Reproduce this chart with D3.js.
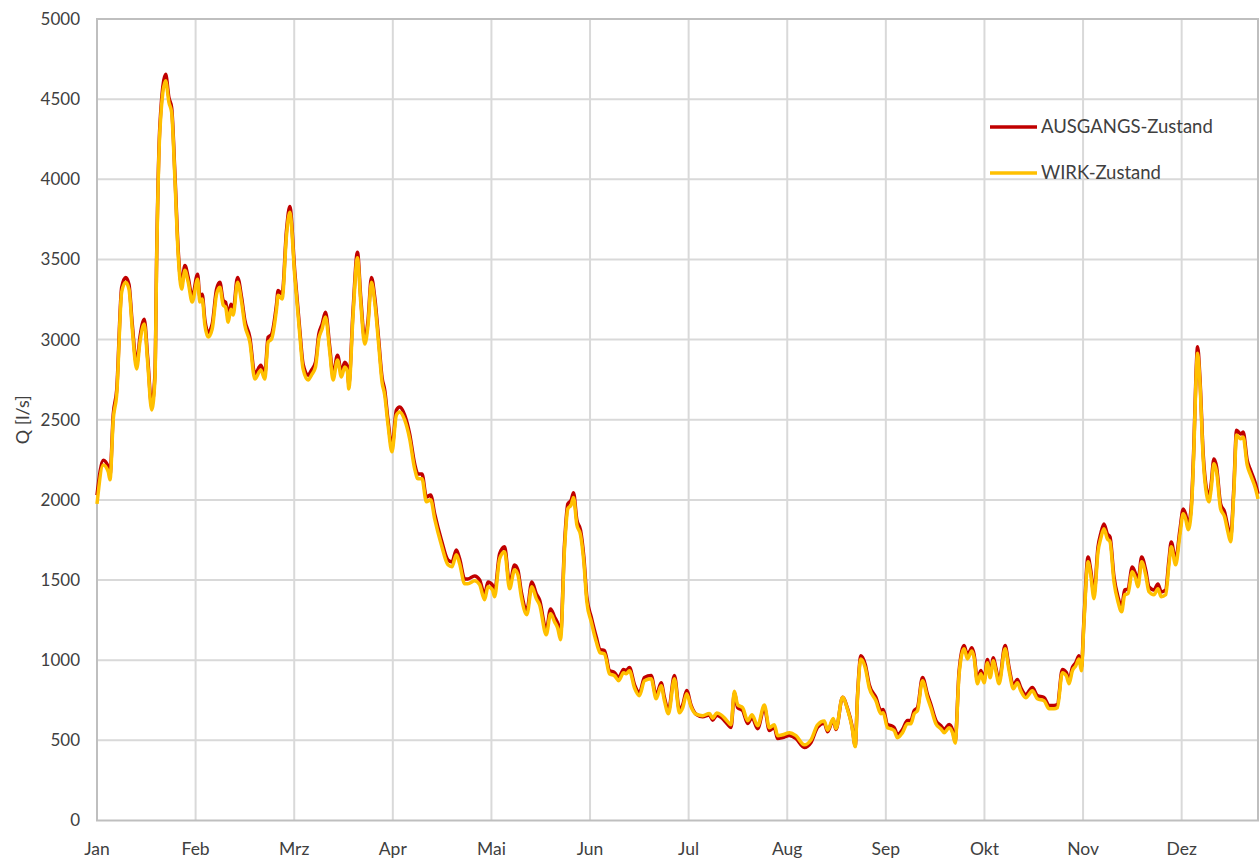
<!DOCTYPE html>
<html>
<head>
<meta charset="utf-8">
<script src="https://cdn.jsdelivr.net/npm/d3@7"></script>
<style>
  body { margin: 0; background: #fff; }
  text { font-family: Lato, "Open Sans", sans-serif; fill: #404040; }
</style>
</head>
<body>
<div id="chartContainer"></div>
<script>
const days = [
  0, 1.98, 3.55, 4.08, 5.12, 6.19, 7.76, 9.01, 10.05, 11.09, 12.47, 13.5, 14.86, 15.92, 17.18, 18.22, 18.75, 19.79,
  21.58, 22.61, 23.46, 24.5, 25.53, 26.6, 27.64, 28.67, 29.93, 31.63, 32.35, 33.07, 33.92, 34.96, 36.21, 37.59,
  38.63, 39.67, 40.42, 41.24, 42.09, 42.81, 44.19, 45.45, 46.48, 48.05, 49.62, 51.51, 52.76, 53.8, 54.87, 56.44,
  56.94, 58.2, 59.58, 60.61, 62.19, 63.76, 64.79, 66.36, 67.43, 68.69, 69.72, 70.76, 71.83, 73.18, 74.21, 75.6,
  76.85, 77.89, 78.74, 79.15, 80.5, 81.88, 82.91, 84.17, 85.21, 86.27, 87.31, 88.57, 89.6, 90.45, 91.49, 92.74,
  94.13, 95.16, 96.73, 98.3, 99.87, 100.91, 102.17, 103.55, 104.9, 106.16, 108.26, 110.33, 111.59, 112.97, 114.01,
  115.58, 116.61, 118.72, 120.29, 121.86, 122.9, 124.28, 125.0, 126.57, 128.14, 129.71, 131.28, 132.32, 133.39,
  135.14, 136.71, 138.1, 139.13, 141.24, 142.59, 143.84, 144.88, 145.73, 146.98, 148.02, 149.09, 149.81, 150.85,
  152.01, 153.05, 153.99, 155.37, 156.94, 158.2, 159.55, 161.12, 162.69, 164.04, 165.52, 166.36, 167.4, 168.97,
  170.54, 172.11, 174.21, 175.79, 177.36, 178.39, 179.65, 181.53, 183.1, 184.14, 185.39, 186.78, 188.35, 190.42,
  192.52, 193.56, 194.82, 196.2, 197.77, 199.34, 200.38, 201.41, 202.98, 204.55, 205.94, 207.7, 209.8, 211.37,
  212.94, 213.98, 215.55, 217.65, 219.76, 222.36, 224.47, 226.54, 228.64, 229.68, 231.47, 232.32, 234.39, 235.96,
  237.34, 238.38, 239.1, 240.17, 241.52, 242.78, 244.88, 246.45, 247.17, 248.52, 249.59, 250.63, 251.66, 253.23,
  254.8, 255.87, 256.91, 257.95, 259.52, 261.09, 262.16, 263.73, 265.3, 266.33, 267.9, 268.94, 269.79, 271.04,
  272.61, 273.65, 275.03, 275.75, 276.79, 277.86, 278.89, 279.93, 280.78, 281.81, 282.57, 283.6, 285.49, 286.75,
  288.1, 289.35, 290.42, 291.99, 294.06, 295.63, 297.74, 299.31, 300.88, 301.92, 303.49, 304.74, 305.59, 306.63,
  307.7, 308.73, 309.46, 310.3, 311.56, 312.41, 313.44, 314.7, 315.55, 316.58, 317.62, 318.47, 319.72, 320.98,
  322.14, 323.09, 324.12, 325.47, 326.54, 327.26, 328.42, 329.68, 330.72, 332.29, 333.54, 334.58, 335.96, 337.0,
  337.72, 339.1, 340.45, 341.49, 342.24, 343.06, 344.0, 344.85, 345.48, 346.01, 346.73, 347.77, 348.84, 349.56,
  350.28, 351.13, 351.98, 353.23, 354.49, 355.53, 356.38, 357.41, 358.26, 359.52, 360.34, 361.59, 362.66, 364.24, 365
];

const ausgang = [
  2030, 2248, 2205, 2155, 2535, 2685, 3326, 3388, 3345, 3096, 2847, 3015, 3127, 2890, 2591, 2784, 3513, 4342,
  4655, 4510, 4448, 4030, 3557, 3345, 3463, 3388, 3264, 3407, 3264, 3283, 3120, 3046, 3096, 3314,
  3357, 3245, 3233, 3139, 3220, 3183, 3388, 3264, 3120, 3015, 2784, 2840, 2784, 3015, 3033, 3220,
  3307, 3283, 3682, 3830, 3420, 3058, 2847, 2778, 2809, 2859, 3033, 3096, 3171, 2952, 2778, 2903,
  2797, 2859, 2828, 2722, 3183, 3545, 3264, 3002, 3120, 3388, 3264, 2996, 2766, 2685, 2498, 2330,
  2560, 2579, 2529, 2411, 2224, 2162, 2162, 2018, 2031, 1912, 1750, 1625, 1613, 1688, 1632,
  1507, 1507, 1526, 1501, 1407, 1488, 1470, 1426, 1663, 1707, 1476, 1594, 1563, 1426,
  1314, 1488, 1414, 1376, 1189, 1320, 1270, 1227, 1158, 1725, 1975, 2000, 2045, 1875,
  1812, 1644, 1395, 1270, 1146, 1066, 1060, 935, 923, 892, 942, 935, 954, 848,
  798, 892, 904, 779, 860, 767, 686, 904, 692, 723, 811, 718, 663, 648,
  658, 626, 656, 643, 611, 580, 795, 704, 686, 605, 642, 573, 705, 561,
  580, 511, 517, 530, 511, 456, 487, 582, 608, 553, 628, 567, 769, 698,
  592, 467, 782, 1028, 973, 848, 767, 686, 692, 599, 592, 580, 536, 568,
  624, 624, 686, 705, 892, 786, 723, 624, 592, 568, 599, 568, 495, 935,
  1091, 1028, 1078, 1035, 873, 935, 879, 1004, 910, 1016, 954, 873, 1091, 954,
  842, 879, 829, 786, 829, 779, 767, 717, 717, 723, 942, 923, 873, 954,
  985, 1028, 954, 1260, 1644, 1563, 1414, 1707, 1788, 1850, 1788, 1769, 1520, 1395,
  1332, 1438, 1445, 1582, 1538, 1488, 1644, 1563, 1457, 1438, 1476, 1426, 1438, 1625,
  1738, 1625, 1812, 1943, 1912, 1844, 1956, 2348, 2766, 2955, 2766, 2286, 2062, 2018,
  2099, 2255, 2205, 1975, 1925, 1831, 1769, 2080, 2435, 2411, 2423, 2248, 2186, 2099, 2037
];

const wirk = [
  1975, 2218, 2175, 2125, 2505, 2655, 3296, 3358, 3315, 3066, 2817, 2985, 3097, 2860, 2561, 2754, 3483, 4312,
  4615, 4480, 4418, 4000, 3527, 3315, 3433, 3358, 3234, 3377, 3234, 3253, 3090, 3016, 3066, 3284,
  3327, 3215, 3203, 3109, 3190, 3153, 3358, 3234, 3090, 2985, 2754, 2810, 2754, 2985, 3003, 3190,
  3277, 3253, 3652, 3795, 3390, 3028, 2817, 2748, 2779, 2829, 3003, 3066, 3141, 2922, 2748, 2873,
  2767, 2829, 2798, 2692, 3153, 3510, 3234, 2972, 3090, 3358, 3234, 2966, 2736, 2655, 2468, 2300,
  2530, 2549, 2499, 2381, 2194, 2132, 2132, 1988, 2001, 1882, 1720, 1595, 1583, 1658, 1602,
  1477, 1477, 1496, 1471, 1377, 1458, 1440, 1396, 1633, 1677, 1446, 1564, 1533, 1396,
  1284, 1458, 1384, 1346, 1159, 1290, 1240, 1197, 1128, 1695, 1945, 1970, 2015, 1845,
  1782, 1614, 1365, 1240, 1116, 1046, 1040, 915, 903, 872, 922, 915, 934, 828,
  778, 872, 884, 759, 840, 747, 666, 884, 672, 703, 791, 708, 663, 654,
  668, 638, 670, 659, 629, 598, 807, 722, 704, 623, 660, 591, 721, 579,
  598, 529, 535, 548, 529, 472, 503, 596, 620, 563, 636, 573, 769, 692,
  586, 461, 770, 1008, 953, 828, 747, 666, 672, 579, 572, 560, 516, 548,
  604, 604, 666, 685, 872, 766, 703, 604, 572, 548, 579, 548, 483, 915,
  1071, 1008, 1058, 1015, 853, 915, 859, 984, 890, 996, 934, 853, 1071, 934,
  822, 859, 809, 766, 809, 759, 747, 697, 697, 703, 922, 903, 853, 934,
  965, 1008, 934, 1240, 1614, 1533, 1384, 1677, 1758, 1820, 1758, 1739, 1490, 1365,
  1302, 1408, 1415, 1552, 1508, 1458, 1614, 1533, 1427, 1408, 1446, 1396, 1408, 1595,
  1708, 1595, 1782, 1913, 1882, 1814, 1926, 2318, 2736, 2915, 2736, 2256, 2032, 1988,
  2069, 2225, 2175, 1945, 1895, 1801, 1739, 2050, 2405, 2381, 2393, 2218, 2156, 2069, 2007
];

// category axis ticks every 31 days, labelled with month names
const monthLabels = ["Jan", "Feb", "Mrz", "Apr", "Mai", "Jun", "Jul", "Aug", "Sep", "Okt", "Nov", "Dez"];
const yTicks = [0, 500, 1000, 1500, 2000, 2500, 3000, 3500, 4000, 4500, 5000];

const seriesNames = ["AUSGANGS-Zustand", "WIRK-Zustand"];
const seriesColors = ["#C00000", "#FFC000"];

const width = 1260;
const height = 861;
const margin = { top: 19, right: 2, bottom: 40, left: 97 };

const svg = d3
  .select("#chartContainer")
  .append("svg")
  .attr("width", width)
  .attr("height", height);

const x = d3.scaleLinear().domain([0, 365]).range([margin.left, width - margin.right]);
const y = d3.scaleLinear().domain([0, 5000]).range([height - margin.bottom - 0.5, margin.top]);

// grid
svg
  .append("g")
  .selectAll("line")
  .data(yTicks.slice(1, -1))
  .enter()
  .append("line")
  .attr("x1", x(0))
  .attr("x2", x(365))
  .attr("y1", (d) => y(d))
  .attr("y2", (d) => y(d))
  .attr("stroke", "#D9D9D9")
  .attr("stroke-width", 2);

svg
  .append("g")
  .selectAll("line")
  .data(monthLabels.slice(1))
  .enter()
  .append("line")
  .attr("x1", (d, i) => x((i + 1) * 31))
  .attr("x2", (d, i) => x((i + 1) * 31))
  .attr("y1", y(0))
  .attr("y2", y(5000))
  .attr("stroke", "#D9D9D9")
  .attr("stroke-width", 2);

// plot frame
svg
  .append("rect")
  .attr("x", x(0))
  .attr("y", y(5000))
  .attr("width", x(365) - x(0))
  .attr("height", y(0) - y(5000))
  .attr("fill", "none")
  .attr("stroke", "#BFBFBF")
  .attr("stroke-width", 2);

// y labels
svg
  .append("g")
  .selectAll("text")
  .data(yTicks)
  .enter()
  .append("text")
  .attr("x", x(0) - 17)
  .attr("y", (d) => y(d))
  .attr("dy", "0.35em")
  .attr("text-anchor", "end")
  .style("font-size", "17px")
  .text((d) => d);

// x labels
svg
  .append("g")
  .selectAll("text")
  .data(monthLabels)
  .enter()
  .append("text")
  .attr("x", (d, i) => x(i * 31))
  .attr("y", y(0) + 34)
  .attr("text-anchor", "middle")
  .style("font-size", "17.5px")
  .text((d) => d);

svg
  .append("text")
  .attr("transform", `translate(29, ${(y(0) + y(5000)) / 2}) rotate(-90)`)
  .attr("text-anchor", "middle")
  .style("font-size", "18px")
  .text("Q [l/s]");

// lines
const line = d3
  .line()
  .x((d) => x(d[0]))
  .y((d) => y(d[1]))
  .curve(d3.curveMonotoneX);

[ausgang, wirk].forEach((vals, k) => {
  svg
    .append("path")
    .datum(days.map((d, i) => [d, vals[i]]))
    .attr("fill", "none")
    .attr("stroke", seriesColors[k])
    .attr("stroke-width", 3.5)
    .attr("stroke-linejoin", "round")
    .attr("d", line);
});

// legend
const legend = svg.append("g").attr("transform", "translate(990, 127)");
seriesNames.forEach((name, k) => {
  legend
    .append("line")
    .attr("x1", 0)
    .attr("x2", 47)
    .attr("y1", k * 46)
    .attr("y2", k * 46)
    .attr("stroke", seriesColors[k])
    .attr("stroke-width", 3.5);
  legend
    .append("text")
    .attr("x", 51)
    .attr("y", k * 46)
    .attr("dy", "0.35em")
    .style("font-size", "18.5px")
    .text(name);
});
</script>
</body>
</html>
